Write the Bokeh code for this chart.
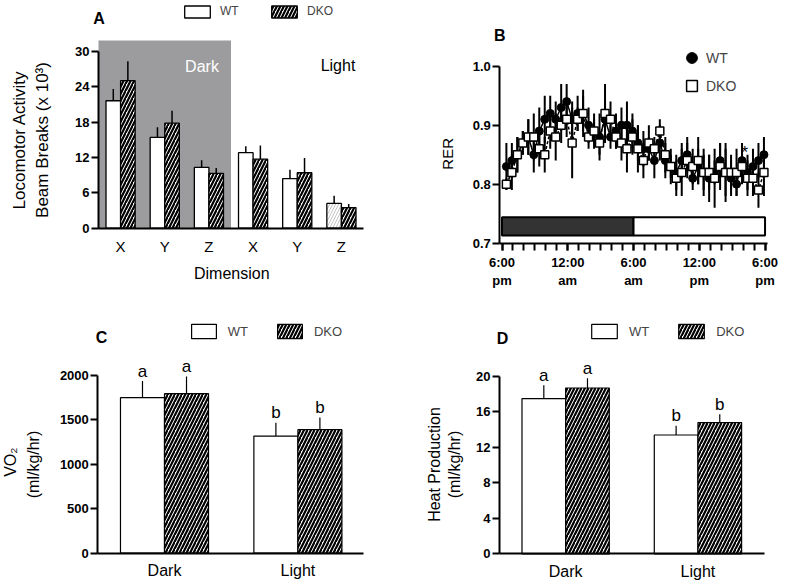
import math
from bokeh.plotting import figure
from bokeh.layouts import column, row
from bokeh.models import (ColumnDataSource, FixedTicker, Range1d, Label, Legend,
                          LegendItem, BoxAnnotation, LinearAxis)
from bokeh.core.properties import value, field
from bokeh.embed import file_html
from bokeh.resources import INLINE

FONT = "Liberation Sans"

# ---------------- data ----------------
# Panel A: locomotor activity (beam breaks x 10^3)
loco_dims = ["X", "Y", "Z", "X", "Y", "Z"]
loco_wt = [21.6, 15.4, 10.3, 12.8, 8.4, 4.2]
loco_wt_sem = [2.0, 1.7, 1.2, 1.1, 1.5, 1.3]
loco_dko = [25.0, 17.8, 9.3, 11.7, 9.4, 3.5]
loco_dko_sem = [3.3, 2.1, 0.9, 2.3, 2.5, 0.6]
loco_ticks = [0, 6, 12, 18, 24, 30]

# Panel B: RER over 24 h (hours after 6:00 pm)
rer_hours = [0.4, 0.9, 1.4, 1.9, 2.4, 2.9, 3.4, 3.9, 4.4, 4.9, 5.4, 5.9,
             6.4, 6.9, 7.4, 7.9, 8.4, 8.9, 9.4, 9.9, 10.4, 10.9, 11.4, 11.9,
             12.4, 12.9, 13.4, 13.9, 14.4, 14.9, 15.4, 15.9, 16.4, 16.9, 17.4, 17.9,
             18.4, 18.9, 19.4, 19.9, 20.4, 20.9, 21.4, 21.9, 22.4, 22.9, 23.4, 23.9]
rer_wt = [0.83, 0.84, 0.85, 0.87, 0.88, 0.85, 0.89, 0.91, 0.92, 0.91, 0.93, 0.94,
          0.91, 0.92, 0.92, 0.90, 0.89, 0.88, 0.91, 0.88, 0.89, 0.90, 0.90, 0.89,
          0.87, 0.86, 0.86, 0.84, 0.87, 0.84, 0.83, 0.82, 0.84, 0.85, 0.81, 0.83,
          0.82, 0.81, 0.82, 0.84, 0.82, 0.81, 0.80, 0.84, 0.82, 0.83, 0.84, 0.85]
rer_wt_sem = [0.04, 0.03, 0.03, 0.02, 0.03, 0.03, 0.04, 0.04, 0.03, 0.03, 0.04, 0.03,
              0.03, 0.03, 0.04, 0.03, 0.03, 0.04, 0.03, 0.02, 0.03, 0.03, 0.04, 0.03,
              0.03, 0.03, 0.02, 0.03, 0.03, 0.03, 0.02, 0.03, 0.03, 0.03, 0.02, 0.03,
              0.03, 0.04, 0.02, 0.03, 0.04, 0.03, 0.02, 0.03, 0.03, 0.03, 0.03, 0.03]
rer_dko = [0.80, 0.82, 0.85, 0.87, 0.88, 0.88, 0.86, 0.85, 0.89, 0.88, 0.90, 0.91,
           0.87, 0.91, 0.92, 0.88, 0.89, 0.87, 0.92, 0.91, 0.88, 0.87, 0.86, 0.88,
           0.86, 0.84, 0.87, 0.86, 0.89, 0.85, 0.83, 0.81, 0.82, 0.84, 0.83, 0.84,
           0.82, 0.82, 0.81, 0.83, 0.82, 0.82, 0.82, 0.83, 0.81, 0.81, 0.79, 0.82]
rer_dko_sem = [0.01, 0.03, 0.03, 0.02, 0.03, 0.04, 0.03, 0.03, 0.03, 0.04, 0.03, 0.03,
               0.06, 0.02, 0.03, 0.02, 0.02, 0.02, 0.05, 0.03, 0.02, 0.03, 0.04, 0.03,
               0.04, 0.03, 0.03, 0.02, 0.02, 0.03, 0.03, 0.03, 0.04, 0.03, 0.03, 0.04,
               0.04, 0.03, 0.05, 0.04, 0.05, 0.03, 0.04, 0.03, 0.03, 0.03, 0.03, 0.04]
rer_tick_hours = [0, 6, 12, 18, 24]
rer_tick_labels = ["6:00\npm", "12:00\nam", "6:00\nam", "12:00\npm", "6:00\npm"]
rer_minor_hours = list(range(0, 25))
rer_yticks = [0.7, 0.8, 0.9, 1.0]
rer_ytick_labels = ["0.7", "0.8", "0.9", "1.0"]
cycle_names = ["Dark", "Light"]
cycle_start = [0, 12]
cycle_end = [12, 24]
sig_hour = 22.15
sig_rer = 0.853

# Panel C: VO2
periods = ["Dark", "Light"]
vo2_wt = [1750, 1318]
vo2_wt_sem = [187, 150]
vo2_dko = [1795, 1390]
vo2_dko_sem = [195, 137]
vo2_wt_letters = ["a", "b"]
vo2_dko_letters = ["a", "b"]
vo2_ticks = [0, 500, 1000, 1500, 2000]

# Panel D: heat production
heat_wt = [17.5, 13.4]
heat_wt_sem = [1.5, 1.05]
heat_dko = [18.7, 14.8]
heat_dko_sem = [1.1, 0.95]
heat_wt_letters = ["a", "b"]
heat_dko_letters = ["a", "b"]
heat_ticks = [0, 4, 8, 12, 16, 20]

# ---------------- styles / layout helpers ----------------
BAR_W = 0.33
OFF = 0.165
HATCH = dict(hatch_pattern="/", hatch_color="black", hatch_weight=2.2, hatch_scale=7)


class Panel:
    """A figure whose frame fills the whole canvas; positions given in page px."""

    def __init__(self, x0, y0, w, h, xpx, xval, xpage, ypx, yval, ypage):
        self.x0, self.y0, self.w, self.h = x0, y0, w, h
        xs = xval - (xpage - x0) / xpx
        ys = yval - (y0 + h - ypage) / ypx
        self.p = figure(width=w, height=h,
                        x_range=Range1d(xs, xs + w / xpx),
                        y_range=Range1d(ys, ys + h / ypx),
                        x_axis_type=None, y_axis_type=None,
                        output_backend="svg", toolbar_location=None,
                        min_border_left=0, min_border_right=0,
                        min_border_top=0, min_border_bottom=0)
        p = self.p
        p.outline_line_color = None
        p.grid.visible = False
        p.background_fill_color = "white"
        p.border_fill_color = "white"

    def sx(self, page_x):
        return page_x - self.x0

    def sy(self, page_y):
        return self.y0 + self.h - page_y

    def text(self, px, py, text, size, bold=False, angle=0.0, color="black"):
        self.p.add_layout(Label(x=self.sx(px), y=self.sy(py), x_units="screen", y_units="screen",
                                text=text, text_font=FONT, text_font_size=f"{size}px",
                                text_font_style="bold" if bold else "normal",
                                angle=angle, text_align="center", text_baseline="middle",
                                text_color=color))

    def axis(self, side, fixed, ticks, bounds, tick_out=7, size="13px", bold=True,
             standoff=2, overrides=None, minor=None):
        if minor is not None:
            ticker = FixedTicker(ticks=ticks, minor_ticks=minor)
        else:
            ticker = FixedTicker(ticks=ticks)
        ax = LinearAxis(fixed_location=fixed, ticker=ticker, bounds=bounds)
        ax.axis_line_width = 2
        ax.axis_line_color = "black"
        ax.major_tick_line_width = 2
        ax.major_tick_line_color = "black"
        ax.major_tick_out = tick_out
        ax.major_tick_in = 0
        ax.minor_tick_line_width = 2
        ax.minor_tick_line_color = "black"
        ax.minor_tick_out = tick_out if minor is not None else 0
        ax.minor_tick_in = 0
        ax.major_label_text_font = FONT
        ax.major_label_text_font_size = size
        ax.major_label_text_font_style = "bold" if bold else "normal"
        ax.major_label_text_color = "black"
        ax.major_label_standoff = standoff
        if overrides:
            ax.major_label_overrides = overrides
        self.p.add_layout(ax, side)
        return ax

    def legend(self, items, page_left, page_bottom, gw, gh, size, standoff, spacing,
               orientation="horizontal"):
        leg = Legend(items=[LegendItem(label=l, renderers=[r]) for l, r in items],
                     orientation=orientation,
                     location=(self.sx(page_left), self.sy(page_bottom)),
                     glyph_width=gw, glyph_height=gh, label_height=gh,
                     label_text_font=FONT, label_text_font_size=size,
                     label_standoff=standoff, spacing=spacing, padding=0, margin=0,
                     border_line_alpha=0, background_fill_alpha=0)
        self.p.add_layout(leg)


# ---------------- Panel A ----------------
A = Panel(0, 0, 400, 290, 265.0 / 6, -0.5, 98, 177.0 / 30, 0, 227.7)
pA = A.p
pA.add_layout(BoxAnnotation(left=-0.5, right=2.5, bottom=0, top=31.8,
                            fill_color="#9c9c9e", fill_alpha=1.0,
                            line_alpha=0, level="underlay"))
nA = len(loco_dims)
wt_hatch_style = [" ", " ", " ", " ", " ", "/"]
srcA_wt = ColumnDataSource(dict(x=[i - OFF for i in range(nA)], top=loco_wt,
                                err=[v + e for v, e in zip(loco_wt, loco_wt_sem)],
                                hatch=wt_hatch_style))
srcA_dko = ColumnDataSource(dict(x=[i + OFF for i in range(nA)], top=loco_dko,
                                 err=[v + e for v, e in zip(loco_dko, loco_dko_sem)]))
pA.segment(x0="x", y0="top", x1="x", y1="err", source=srcA_wt, line_color="black", line_width=1.5)
pA.segment(x0="x", y0="top", x1="x", y1="err", source=srcA_dko, line_color="black", line_width=1.5)
rA_wt = pA.vbar(x="x", top="top", width=BAR_W, bottom=0, source=srcA_wt,
                fill_color="white", line_color="black", line_width=1.3,
                hatch_pattern=field("hatch"), hatch_color="#c4c4c4", hatch_weight=1, hatch_scale=6)
rA_dko = pA.vbar(x="x", top="top", width=BAR_W, bottom=0, source=srcA_dko,
                 fill_color="white", line_color="black", line_width=1.3, **HATCH)
A.axis("left", -0.5, loco_ticks, (0, 30))
A.axis("below", 0, list(range(nA)), (-0.5, 5.5), tick_out=0, size="15px", bold=False,
       standoff=10, overrides={i: d for i, d in enumerate(loco_dims)})
A.text(98.5, 18, "A", 16, bold=True)
A.text(19, 139.5, "Locomotor Activity", 17, angle=math.pi / 2)
A.text(42, 139.5, "Beam Breaks (x 10\u00b3)", 17, angle=math.pi / 2)
A.text(231.3, 272.5, "Dimension", 16)
A.text(201.5, 66, "Dark", 16, color="white")
A.text(337.5, 65, "Light", 16)
A.legend([("WT", rA_wt), ("DKO", rA_dko)], 181, 18.5, 32, 15, "12px", 7, 28)

# ---------------- Panel B ----------------
B = Panel(400, 0, 385, 290, 10.96, 0, 501.5, 590.0, 0.7, 242.7)
pB = B.p
pB.quad(left=cycle_start, right=cycle_end, bottom=0.713, top=0.744,
        fill_color=["#333333", "white"], line_color="black", line_width=2)
pB.segment(x0=rer_hours, y0=[v - e for v, e in zip(rer_wt, rer_wt_sem)],
           x1=rer_hours, y1=[v + e for v, e in zip(rer_wt, rer_wt_sem)],
           line_color="black", line_width=2)
pB.segment(x0=rer_hours, y0=[v - e for v, e in zip(rer_dko, rer_dko_sem)],
           x1=rer_hours, y1=[v + e for v, e in zip(rer_dko, rer_dko_sem)],
           line_color="black", line_width=2)
pB.line(rer_hours, rer_wt, line_color="black", line_width=1.5)
pB.line(rer_hours, rer_dko, line_color="black", line_width=1.5, line_dash="3 2")
rB_wt = pB.scatter(rer_hours, rer_wt, marker="circle", size=8,
                   fill_color="black", line_color="black")
rB_dko = pB.scatter(rer_hours, rer_dko, marker="square", size=8,
                    fill_color="white", line_color="black", line_width=1.5)
pB.text(x=[sig_hour], y=[sig_rer], text=["*"], text_font=value(FONT), text_color="black",
        text_font_size="17px", text_align="center", text_baseline="alphabetic")
B.axis("left", -0.2, rer_yticks, (0.7, 1.0),
       overrides={t: l for t, l in zip(rer_yticks, rer_ytick_labels)})
B.axis("below", 0.7, rer_tick_hours, (-0.2, 24.2), tick_out=7, standoff=5,
       minor=rer_minor_hours,
       overrides={h: t for h, t in zip(rer_tick_hours, rer_tick_labels)})
B.text(499.3, 35, "B", 16, bold=True)
B.text(446.7, 153.3, "RER", 15, angle=math.pi / 2)
B.legend([("WT", rB_wt), ("DKO", rB_dko)], 678, 99.2, 27, 27, "14px", 1, 1,
         orientation="vertical")


# ---------------- Panels C & D ----------------
def bar_panel(panel, ticks, wt, wt_sem, dko, dko_sem, wt_letters, dko_letters, xbounds):
    p = panel.p
    n = len(periods)
    s_wt = ColumnDataSource(dict(x=[i - OFF for i in range(n)], top=wt,
                                 err=[v + e for v, e in zip(wt, wt_sem)], lab=wt_letters))
    s_dko = ColumnDataSource(dict(x=[i + OFF for i in range(n)], top=dko,
                                  err=[v + e for v, e in zip(dko, dko_sem)], lab=dko_letters))
    for s in (s_wt, s_dko):
        p.segment(x0="x", y0="top", x1="x", y1="err", source=s, line_color="black", line_width=1.2)
        p.text(x="x", y="err", text="lab", source=s, text_font=value(FONT), text_color="black",
               text_font_size="17px", text_align="center", text_baseline="alphabetic",
               y_offset=-10)
    r_wt = p.vbar(x="x", top="top", width=BAR_W, bottom=0, source=s_wt,
                  fill_color="white", line_color="black", line_width=1.2)
    r_dko = p.vbar(x="x", top="top", width=BAR_W, bottom=0, source=s_dko,
                   fill_color="white", line_color="black", line_width=1.2, **HATCH)
    panel.axis("left", -0.5, ticks, (0, ticks[-1]))
    panel.axis("below", 0, list(range(n)), xbounds, tick_out=0, size="16px", bold=False,
               standoff=9, overrides={i: t for i, t in enumerate(periods)})
    return r_wt, r_dko


C = Panel(0, 290, 400, 294, 133.4, -0.5, 97.3, 177.7 / 2000, 0, 552.7)
rC_wt, rC_dko = bar_panel(C, vo2_ticks, vo2_wt, vo2_wt_sem, vo2_dko, vo2_dko_sem,
                          vo2_wt_letters, vo2_dko_letters, (-0.5, 1.49))
C.text(101, 336.7, "C", 16, bold=True)
C.text(10, 461.7, "VO\u2082", 16, angle=math.pi / 2)
C.text(33, 464, "(ml/kg/hr)", 16, angle=math.pi / 2)
C.legend([("WT", rC_wt), ("DKO", rC_dko)], 187.7, 340.3, 31, 18, "13px", 9, 26)

D = Panel(400, 290, 385, 294, 132.3, -0.5, 499, 177.3 / 20, 0, 553.3)
rD_wt, rD_dko = bar_panel(D, heat_ticks, heat_wt, heat_wt_sem, heat_dko, heat_dko_sem,
                          heat_wt_letters, heat_dko_letters, (-0.5, 1.5))
D.text(502, 338, "D", 16, bold=True)
D.text(434, 464, "Heat Production", 16, angle=math.pi / 2)
D.text(454, 464, "(ml/kg/hr)", 16, angle=math.pi / 2)
D.legend([("WT", rD_wt), ("DKO", rD_dko)], 588, 340.3, 32, 18, "13px", 9, 26)

layout = column(row(A.p, B.p, spacing=0), row(C.p, D.p, spacing=0), spacing=0)
open("out.html", "w").write(file_html(layout, INLINE))
